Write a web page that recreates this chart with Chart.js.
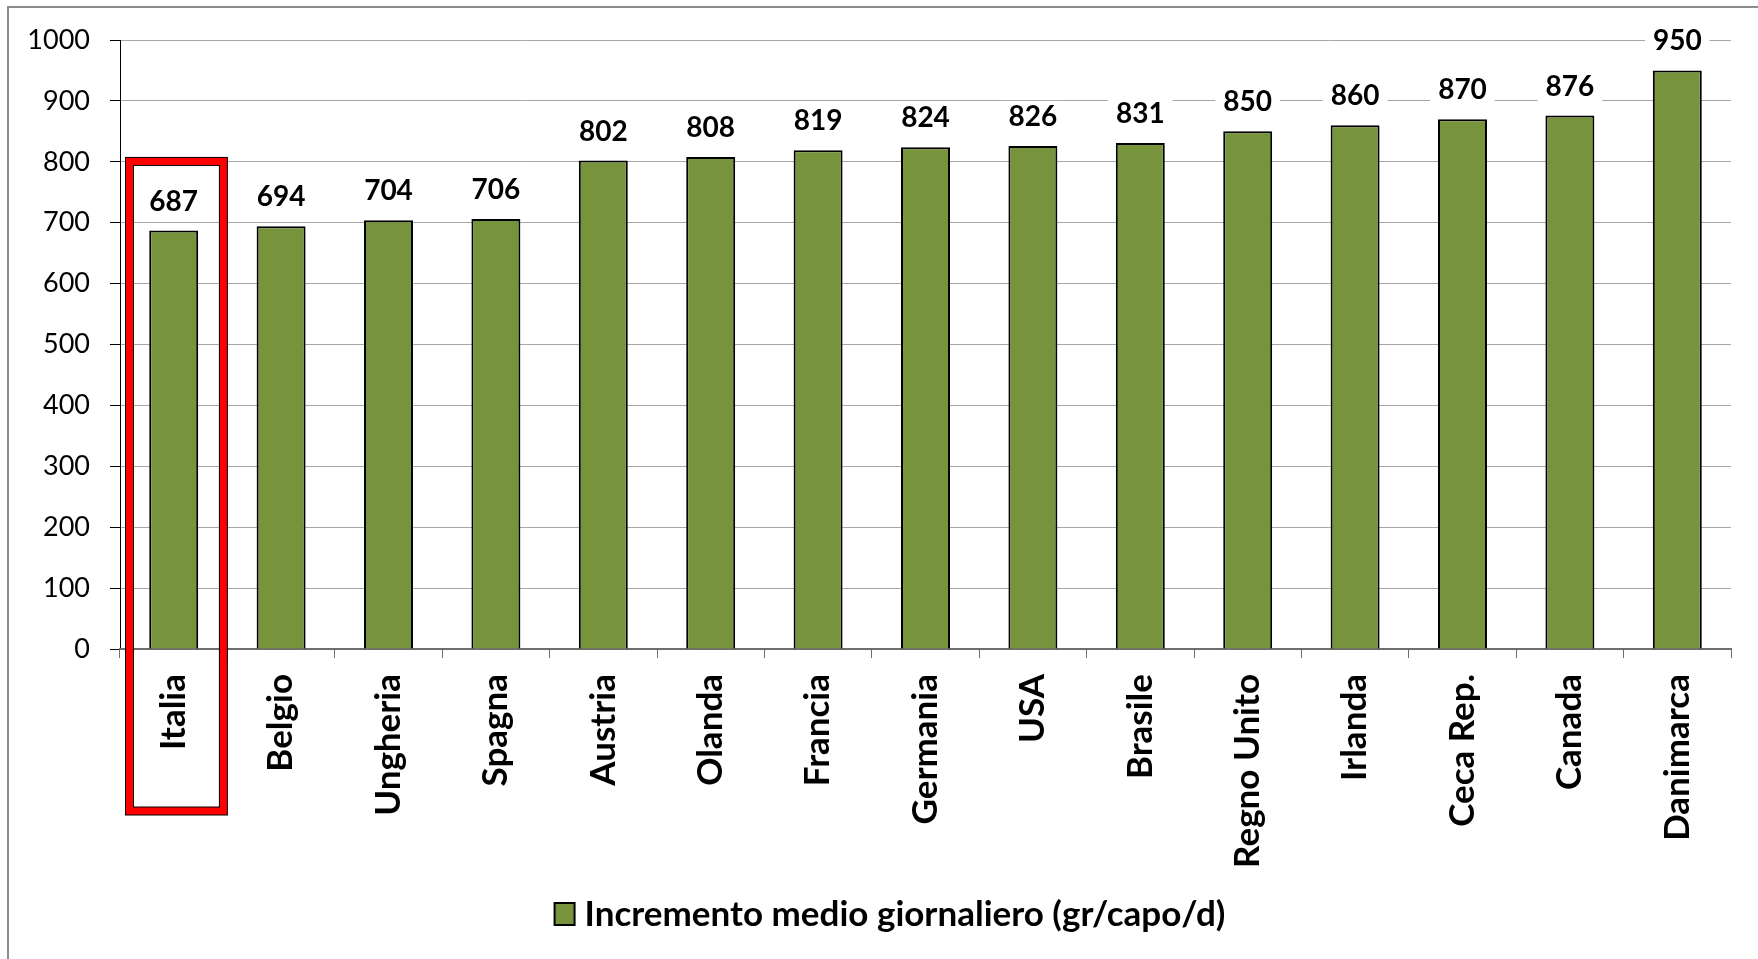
<!DOCTYPE html>
<html>
<head>
<meta charset="utf-8">
<script src="https://cdn.jsdelivr.net/npm/chart.js@4"></script>
<style>
  body { margin: 0; background: #fff; overflow: hidden; }
  #wrap { position: relative; width: 1758px; height: 959px; }
  #frame { position: absolute; left: 7px; top: 6px; right: 0; bottom: 0; border-left: 2px solid #8c8c8c; border-top: 2px solid #8c8c8c; }
</style>
</head>
<body>
<div id="wrap">
  <div id="frame"></div>
  <canvas id="chart" width="1758" height="959"></canvas>
</div>
<script>
const countries = ["Italia", "Belgio", "Ungheria", "Spagna", "Austria", "Olanda", "Francia", "Germania",
  "USA", "Brasile", "Regno Unito", "Irlanda", "Ceca Rep.", "Canada", "Danimarca"];
const gain = [687, 694, 704, 706, 802, 808, 819, 824, 826, 831, 850, 860, 870, 876, 950];
const seriesName = "Incremento medio giornaliero (gr/capo/d)";
const highlightIndex = 0;   // Italia gets the red box
const highlightTop = 808;   // box top, in axis units

const green = "#77933c";
const font = "Lato, 'Open Sans', sans-serif";

// value labels over the bars, with white knock-out behind them
const valueLabels = {
  id: "valueLabels",
  afterDatasetsDraw(chart) {
    const ctx = chart.ctx;
    const meta = chart.getDatasetMeta(0);
    ctx.save();
    ctx.font = "bold 28px " + font;
    ctx.textAlign = "center";
    ctx.textBaseline = "middle";
    meta.data.forEach((bar, i) => {
      const txt = String(gain[i]);
      const w = ctx.measureText(txt).width + 16;
      const cy = bar.y - 30;
      ctx.fillStyle = "#fff";
      ctx.fillRect(bar.x - w / 2, cy - 15, w, 31);
      ctx.fillStyle = "#000";
      ctx.fillText(txt, bar.x, cy + 1);
    });
    ctx.restore();
  }
};

// red frame around the highlighted country + legend at the bottom
const extras = {
  id: "extras",
  afterDraw(chart) {
    const ctx = chart.ctx;
    const xs = chart.scales.x, ys = chart.scales.y;
    const half = (xs.getPixelForValue(1) - xs.getPixelForValue(0)) / 2;
    const cx = xs.getPixelForValue(highlightIndex);
    const left = cx - half + 9.5, right = cx + half - 4;
    const top = ys.getPixelForValue(highlightTop) + 4.5;
    const bottom = ys.getPixelForValue(0) + 162;
    ctx.save();
    ctx.lineJoin = "miter";
    ctx.strokeStyle = "#000";
    ctx.lineWidth = 9;
    ctx.strokeRect(left, top, right - left, bottom - top);
    ctx.strokeStyle = "#ff0000";
    ctx.lineWidth = 7;
    ctx.strokeRect(left, top, right - left, bottom - top);

    // legend
    ctx.font = "bold 35px " + font;
    ctx.textBaseline = "middle";
    ctx.textAlign = "left";
    const tw = ctx.measureText(seriesName).width;
    const bw = 20, gap = 10;
    const total = bw + gap + tw;
    const lx = 890 - total / 2, ly = 914;
    ctx.fillStyle = green;
    ctx.fillRect(lx, ly - 11, bw, 22);
    ctx.strokeStyle = "#000";
    ctx.lineWidth = 2;
    ctx.strokeRect(lx, ly - 11, bw, 22);
    ctx.fillStyle = "#000";
    ctx.fillText(seriesName, lx + bw + gap, ly + 1);
    ctx.restore();
  }
};

new Chart(document.getElementById("chart"), {
  type: "bar",
  data: {
    labels: countries,
    datasets: [{
      label: seriesName,
      data: gain,
      backgroundColor: green,
      borderColor: "#000",
      borderWidth: 2,
      categoryPercentage: 1,
      barPercentage: 0.456
    }]
  },
  options: {
    responsive: false,
    animation: false,
    devicePixelRatio: 1,
    layout: { padding: { top: 40, right: 27, bottom: 50, left: 0 } },
    plugins: { legend: { display: false }, tooltip: { enabled: false } },
    scales: {
      y: {
        min: 0,
        max: 1000,
        afterFit(scale) { scale.width = 120; },
        ticks: {
          stepSize: 100,
          color: "#000",
          padding: 20,
          font: { family: font, size: 27 },
          callback: (v) => String(v)
        },
        grid: { color: "#a6a6a6", tickColor: "#000", tickLength: 10, lineWidth: 1 },
        border: { color: "#000", width: 1 }
      },
      x: {
        afterFit(scale) { scale.height = 260; },
        ticks: {
          color: "#000",
          minRotation: 90,
          maxRotation: 90,
          autoSkip: false,
          padding: 16,
          font: { family: font, size: 35, weight: "bold" }
        },
        grid: { drawOnChartArea: false, tickLength: 9, color: "#6e6e6e", tickColor: "#6e6e6e" },
        border: { color: "#6e6e6e", width: 2 }
      }
    }
  },
  plugins: [valueLabels, extras]
});
</script>
</body>
</html>
